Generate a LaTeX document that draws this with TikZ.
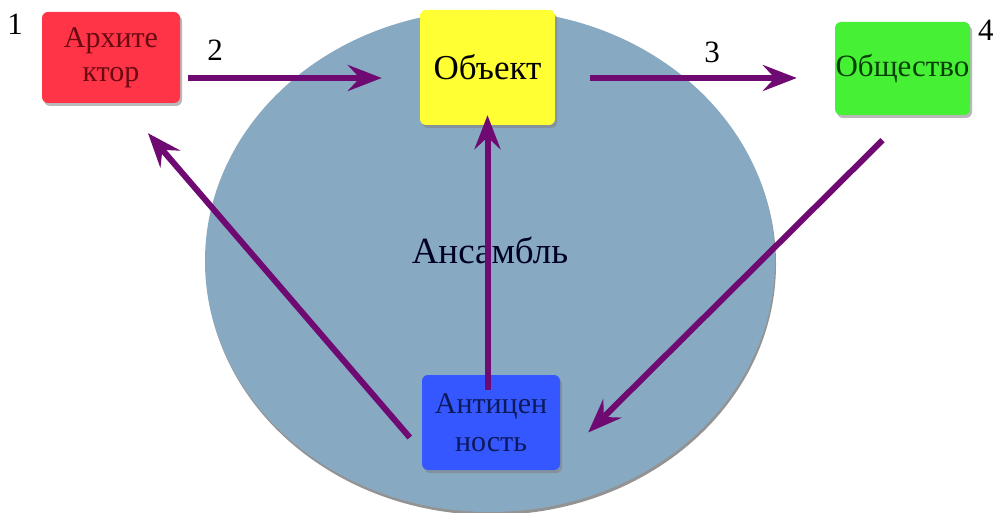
\documentclass[tikz,border=0pt]{standalone}
\usepackage{fontspec}
\setmainfont{Liberation Serif}
\usetikzlibrary{arrows.meta,shadows,calc}
\definecolor{ellfill}{HTML}{87A9C1}
\definecolor{arrcol}{HTML}{6E0A72}
\definecolor{redbox}{HTML}{FF3446}
\definecolor{yelbox}{HTML}{FFFF33}
\definecolor{grnbox}{HTML}{46F034}
\definecolor{blubox}{HTML}{3557FF}
\definecolor{redtxt}{HTML}{6A0A12}
\definecolor{grntxt}{HTML}{083F08}
\definecolor{blutxt}{HTML}{0C1A5C}
\tikzset{
  boxnode/.style={rounded corners=6pt, inner sep=0pt, align=center,
    drop shadow={opacity=0.55, shadow xshift=2pt, shadow yshift=-3pt}},
  arr/.style={draw=arrcol, line width=6pt,
    -{Stealth[length=34pt, width=26pt, inset=12pt]}},
  numlbl/.style={font=\fontsize{31}{31}\selectfont, inner sep=0pt}
}
\begin{document}
\begin{tikzpicture}[x=1pt,y=-1pt]
\useasboundingbox (0,0) rectangle (993,513);
\fill[white] (0,0) rectangle (993,513);
% ensemble ellipse
\fill[black!70, opacity=0.6] (491,264) ellipse [x radius=285pt, y radius=251pt];
\fill[ellfill] (490,261) ellipse [x radius=285pt, y radius=251pt];
% boxes
\node[boxnode, fill=redbox, minimum width=138pt, minimum height=91pt,
  font=\fontsize{30}{34}\selectfont, text=redtxt] (arch) at (111,57.5) {Архите\\ктор};
\node[boxnode, fill=yelbox, minimum width=135pt, minimum height=115pt,
  font=\fontsize{35}{38}\selectfont, text=black] (obj) at (487.5,67.5) {Объект};
\node[boxnode, fill=grnbox, minimum width=135pt, minimum height=93pt,
  font=\fontsize{31}{34}\selectfont, text=grntxt] (soc) at (902.5,68.5) {Общество};
\node[boxnode, fill=blubox, minimum width=138pt, minimum height=95pt,
  font=\fontsize{30}{38}\selectfont, text=blutxt] (anti) at (491,422.5) {Антицен\\ность};
% labels
\node[font=\fontsize{37}{37}\selectfont, text=black!85!blue] (ens) at (490,250) {Ансамбль};
\node[numlbl] (n1) at (15,24) {1};
\node[numlbl] (n2) at (215,50) {2};
\node[numlbl] (n3) at (712,52) {3};
\node[numlbl, anchor=west] (n4) at (978,30) {4};
% arrows
\draw[arr] ([shift={(8,20.5)}]arch.east) -- ([shift={(-38,10.5)}]obj.west);
\draw[arr] ([shift={(35,10.5)}]obj.east) -- ([shift={(-38,9.5)}]soc.west);
\draw[arr] ([yshift=-15]obj.south |- anti.north) -- ([yshift=10]obj.south);
\coordinate (gs) at ([shift={(-20,25)}]soc.south);
\coordinate (be) at ([shift={(28,10)}]anti.east);
\draw[arr] (gs) -- (be);
\coordinate (bw) at ([shift={(-12,15)}]anti.west);
\coordinate (an) at ([shift={(37,30)}]arch.south);
\draw[arr] (bw) -- (an);
\end{tikzpicture}
\end{document}
